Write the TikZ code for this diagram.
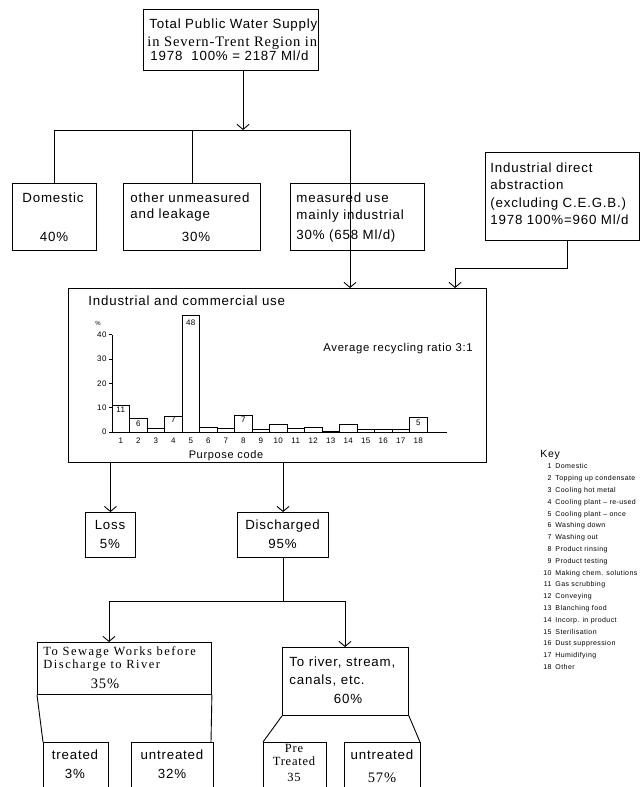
\documentclass[tikz,border=0pt]{standalone}
\usepackage{fontspec}
\setmainfont{Liberation Sans}[LetterSpace=6]
\newfontfamily\rmserif{Liberation Serif}[LetterSpace=6]
\newfontfamily\rmwide{Liberation Serif}[LetterSpace=12]
\usetikzlibrary{arrows.meta}

\begin{document}
\begin{tikzpicture}[x=1pt,y=-1pt,line width=0.9pt,
  box/.style={draw,rectangle,anchor=north west,inner sep=0pt},
  txt/.style={font=\fontsize{13.3}{15}\selectfont,inner sep=0pt,anchor=base west},
  ctxt/.style={txt,anchor=base},
  stxt/.style={font=\rmserif\fontsize{14.5}{16}\selectfont,inner sep=0pt,anchor=base west},
  cstxt/.style={stxt,anchor=base},
  wtxt/.style={font=\rmwide\fontsize{12.5}{13}\selectfont,inner sep=0pt,anchor=base west},
  ptxt/.style={font=\rmserif\fontsize{12.5}{13}\selectfont,inner sep=0pt,anchor=base},
  small/.style={font=\fontsize{8}{9}\selectfont,inner sep=0pt},
  keyno/.style={font=\fontsize{7}{8}\selectfont,inner sep=0pt,anchor=base east},
  keytx/.style={font=\fontsize{7}{8}\selectfont,inner sep=0pt,anchor=base west},
  flow/.style={-{Straight Barb[length=5pt,width=12pt,line width=0.9pt]}}]
\useasboundingbox (0,0) rectangle (641,787);

% ---- supply total ----
\node[box,minimum width=175,minimum height=61] (top) at (143,9) {};
\node[txt] (t1) at (149,28) {Total Public Water Supply};
\node[stxt] (t2) at (147,46) {in Severn-Trent Region in};
\node[txt] (t3) at (150,60) {1978\ \ 100\% = 2187 Ml/d};

% ---- first split ----
\node[box,minimum width=84,minimum height=67] (dom) at (12,183) {};
\node[txt] (d1) at (22,202) {Domestic};
\node[ctxt] (d2) at (54,241) {40\%};

\node[box,minimum width=137,minimum height=67] (oth) at (123,183) {};
\node[txt] (o1) at (130,202) {other unmeasured};
\node[txt] (o2) at (130,218) {and leakage};
\node[ctxt] (o3) at (196,241) {30\%};

\node[box,minimum width=134,minimum height=67] (meas) at (290,183) {};
\node[txt] (m1) at (296,202) {measured use};
\node[txt] (m2) at (296,219) {mainly industrial};
\node[txt] (m3) at (296,239) {30\% (658 Ml/d)};

\coordinate (split) at (243,130);
\draw[flow] (top.south -| split) -- (split);
\draw (split -| dom.north) -- (split -| 350,0);
\draw (split -| dom.north) -- (dom.north);
\draw (split -| oth.north) -- (oth.north);

% ---- direct abstraction ----
\node[box,minimum width=154,minimum height=88] (dir) at (485,152) {};
\node[txt] (a1) at (490,172) {Industrial direct};
\node[txt] (a2) at (490,189) {abstraction};
\node[txt] (a3) at (490,207) {(excluding C.E.G.B.)};
\node[txt] (a4) at (490,224) {1978 100\%=960 Ml/d};

% ---- industrial and commercial use ----
\node[box,minimum width=418,minimum height=174] (icu) at (68,288) {};
\node[txt] (i1) at (88,305) {Industrial and commercial use};

\draw[flow] (350,130) -- (350,0 |- icu.north);
\coordinate (bend) at (567,268);
\draw[flow] (dir.south -| bend) -- (bend) -- (455,268) -- (455,0 |- icu.north);

% bar chart of purpose codes (0 at y=432, 2.43 per percent)
\draw (112,432) -- (447,432);
\draw (112,432) -- (112,335);
\foreach \v/\lab in {0/0,10/10,20/20,30/30,40/40}
  {\draw (109,432-2.43*\v) -- (112,432-2.43*\v);
   \node[small,anchor=east] at (107,432-2.43*\v) {\lab};}
\node[small,font=\fontsize{6}{7}\selectfont] (pct) at (98,323) {\%};
\foreach \v [count=\i] in {11,5.7,1.5,6.6,48,2,1.5,7,1,3,1.5,2,0.4,3,1,1,1,5.8}
  {\draw[fill=white] (112+17.5*\i-17.5,432) rectangle (112+17.5*\i,432-2.43*\v);
   \node[small,anchor=base] at (112+17.5*\i-8.75,443) {\i};}
\foreach \i/\lab/\y in {1/11/412,2/6/426,4/7/422,5/48/325,8/7/422,18/5/425}
  \node[small,anchor=base] at (112+17.5*\i-8.75,\y) {\lab};
\node[font=\fontsize{11}{12}\selectfont,inner sep=0pt,anchor=base] (pc) at (226,458) {Purpose code};
\node[font=\fontsize{11.3}{12}\selectfont,inner sep=0pt,anchor=base west] (avg) at (323,351) {Average recycling ratio 3:1};

% ---- key ----
\node[font=\fontsize{10.5}{12}\selectfont,inner sep=0pt,anchor=base west] (key) at (540,457) {Key};
\foreach \t [count=\i] in {Domestic,Topping up condensate,Cooling hot metal,
  Cooling plant -- re-used,Cooling plant -- once,Washing down,Washing out,
  Product rinsing,Product testing,Making chem. solutions,Gas scrubbing,
  Conveying,Blanching food,Incorp. in product,Sterilisation,
  Dust suppression,Humidifying,Other}
  {\node[keyno] at (552,457+11.8*\i) {\i};
   \node[keytx] at (555,457+11.8*\i) {\t};}

% ---- loss and discharge ----
\node[box,minimum width=50,minimum height=45] (loss) at (85,512) {};
\node[ctxt] (l1) at (110,529) {Loss};
\node[ctxt] (l2) at (110,548) {5\%};
\node[box,minimum width=91,minimum height=45] (dis) at (237,512) {};
\node[ctxt] (s1) at (282.5,529) {Discharged};
\node[ctxt] (s2) at (282.5,548) {95\%};
\draw[flow] (loss.north |- icu.south) -- (loss.north);
\draw[flow] (283,0 |- icu.south) -- (283,0 |- dis.north);

% ---- destination split ----
\node[box,minimum width=174,minimum height=52] (sew) at (37,642) {};
\node[wtxt] (w1) at (43,655) {To Sewage Works before};
\node[wtxt] (w2) at (43,668) {Discharge to River};
\node[cstxt] (w3) at (105,688) {35\%};
\node[box,minimum width=126,minimum height=68] (riv) at (282,647) {};
\node[txt] (r1) at (289,666) {To river, stream,};
\node[txt] (r2) at (289,684) {canals, etc.};
\node[ctxt] (r3) at (348,703) {60\%};

\coordinate (fork) at (283,601);
\draw (dis.south -| fork) -- (fork);
\draw[flow] (fork) -- (109,601) -- (109,0 |- sew.north);
\draw[flow] (fork) -- (345,601) -- (345,0 |- riv.north);

% treated / untreated below the sewage works
\draw (sew.south west) -- (43,742);
\draw (sew.south east) -- (211,742);
\draw (43,787) -- (43,742) -- (108,742) -- (108,787);
\draw (131,787) -- (131,742) -- (213,742) -- (213,787);
\node[ctxt] (u1) at (75,759) {treated};
\node[ctxt] (u2) at (75,778) {3\%};
\node[ctxt] (u3) at (172,759) {untreated};
\node[ctxt] (u4) at (172,778) {32\%};

% pre-treated / untreated below the river box
\draw (riv.south west) -- (263,742);
\draw (riv.south east) -- (420,742);
\draw (263,787) -- (263,742) -- (326,742) -- (326,787);
\draw (344,787) -- (344,742) -- (420,742) -- (420,787);
\node[ptxt] (p1) at (294,752) {Pre};
\node[ptxt] (p2) at (294,765) {Treated};
\node[ptxt] (p3) at (294,781) {35};
\node[ctxt] (v1) at (382,759) {untreated};
\node[cstxt] (v2) at (382,782) {57\%};
\end{tikzpicture}
\end{document}
